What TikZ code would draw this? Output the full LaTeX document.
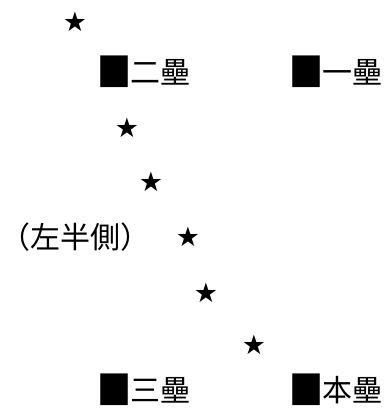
\documentclass[tikz,border=0pt]{standalone}
\usepackage{fontspec}
\newfontfamily\cjk{Noto Sans CJK TC}
\newfontfamily\sym{DejaVu Sans}
\begin{document}
\begin{tikzpicture}[x=1pt,y=1pt,
  lbl/.style={anchor=west,inner sep=0pt,font=\cjk\fontsize{30}{32}\selectfont},
  sq/.style={anchor=west,inner sep=0pt,font=\sym\fontsize{36}{38}\selectfont},
  starmark/.style={inner sep=0pt,font=\sym\fontsize{27}{29}\selectfont}]
\useasboundingbox (0,0) rectangle (385,-410);
\node[starmark] (s1) at (75,-22) {★};
\node[sq] (q2) at (97,-72) {\scalebox{1}[1.15]{■}};
\node[lbl] (b2) at (130,-72) {二壘};
\node[sq] (q1) at (289,-72) {\scalebox{1}[1.15]{■}};
\node[lbl] (b1) at (322,-72) {一壘};
\node[starmark] (s2) at (127,-128) {★};
\node[starmark] (s3) at (151,-182) {★};
\node[lbl] (left) at (0,-237) {（左半側）};
\node[starmark] (s4) at (188,-237) {★};
\node[starmark] (s5) at (206,-293) {★};
\node[starmark] (s6) at (254,-345) {★};
\node[sq] (q3) at (97,-390) {\scalebox{1}[1.15]{■}};
\node[lbl] (b3) at (130,-390) {三壘};
\node[sq] (q4) at (289,-390) {\scalebox{1}[1.15]{■}};
\node[lbl] (home) at (322,-390) {本壘};
\end{tikzpicture}
\end{document}
